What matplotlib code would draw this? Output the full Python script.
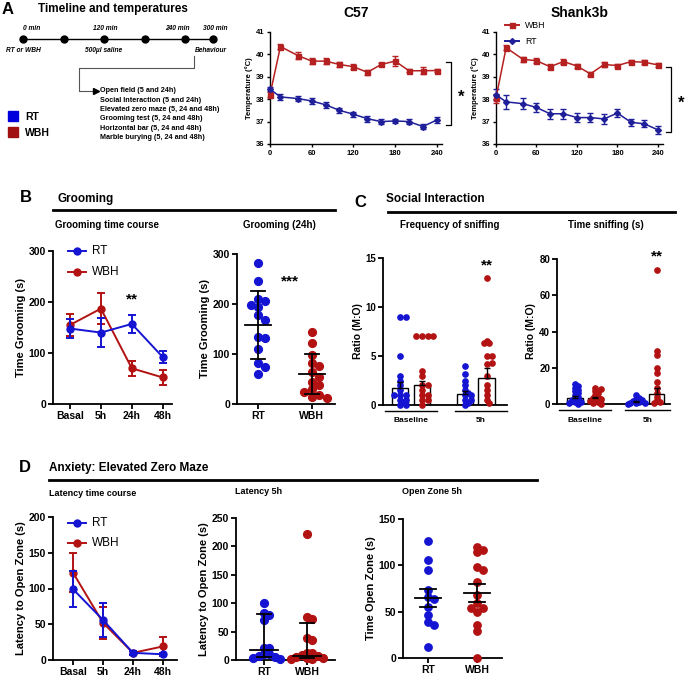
import numpy as np
import matplotlib
matplotlib.use('Agg')
import matplotlib.pyplot as plt
from matplotlib.lines import Line2D

plt.rcParams['font.family'] = ['Liberation Sans', 'DejaVu Sans']
plt.rcParams['font.weight'] = 'bold'
plt.rcParams['axes.labelweight'] = 'bold'
plt.rcParams['axes.titleweight'] = 'bold'

# ---- data ----
temp_times = [0, 15, 40, 60, 80, 100, 120, 140, 160, 180, 200, 220, 240]
c57_wbh = [38.2, 40.35, 39.95, 39.7, 39.7, 39.55, 39.45, 39.2, 39.55, 39.7, 39.27, 39.27, 39.28]
c57_wbh_err = [0.12, 0.12, 0.15, 0.12, 0.12, 0.12, 0.1, 0.12, 0.08, 0.22, 0.07, 0.15, 0.08]
c57_rt = [38.45, 38.1, 38.03, 37.92, 37.75, 37.5, 37.33, 37.13, 37.0, 37.03, 37.0, 36.78, 37.07]
c57_rt_err = [0.1, 0.13, 0.12, 0.13, 0.13, 0.12, 0.12, 0.13, 0.12, 0.1, 0.1, 0.13, 0.15]
shank_wbh = [38.05, 40.3, 39.78, 39.72, 39.45, 39.68, 39.48, 39.13, 39.55, 39.5, 39.68, 39.65, 39.53]
shank_wbh_err = [0.2, 0.12, 0.12, 0.12, 0.1, 0.1, 0.1, 0.1, 0.1, 0.08, 0.08, 0.1, 0.1]
shank_rt = [38.2, 37.88, 37.8, 37.63, 37.35, 37.35, 37.18, 37.18, 37.12, 37.38, 36.97, 36.9, 36.63]
shank_rt_err = [0.25, 0.3, 0.25, 0.22, 0.22, 0.22, 0.22, 0.22, 0.22, 0.18, 0.15, 0.15, 0.18]

time_cats = ['Basal', '5h', '24h', '48h']
groom_rt = [148, 140, 157, 92]
groom_rt_err = [18, 28, 18, 12]
groom_wbh = [155, 187, 70, 52]
groom_wbh_err = [22, 30, 15, 15]

groom24_rt = [283, 247, 210, 207, 198, 195, 178, 168, 135, 132, 110, 82, 75, 60]
groom24_wbh = [145, 122, 98, 83, 77, 65, 55, 45, 38, 30, 25, 18, 15, 12]
groom24_mean = [158, 60]
groom24_sd = [68, 40]

groups = ['RT', 'WBH']
freq_vals = [
    [9, 9, 5, 3, 2.5, 2, 1.5, 1, 1, 1, 0.5, 0.5, 0.3, 0, 0],
    [7, 7, 7, 7, 3.5, 3, 2, 2, 1.5, 1, 1, 0.5, 0.5, 0],
    [4, 3.2, 2.5, 2, 1.5, 1.2, 1, 1, 0.5, 0.5, 0.2, 0],
    [13, 6.5, 6.3, 6.3, 5, 5, 4.2, 4.3, 3, 2, 1.5, 1, 0.5, 0.2],
]
freq_bar = [1.7, 2.0, 1.1, 2.8]
freq_sem = [0.6, 0.5, 0.3, 1.0]
sniff_vals = [
    [11, 10, 9, 8, 7, 6, 5, 4, 3, 2, 2, 1, 1, 0.5, 0],
    [9, 8.5, 7, 6, 5, 4, 3.5, 3, 2, 1.5, 1, 0.5, 0],
    [5, 3.5, 2.5, 2, 1.5, 1, 0.8, 0.5, 0.3, 0],
    [74, 29, 27, 20, 17, 12, 9, 6, 4, 2, 1, 0.5],
]
sniff_bar = [3.5, 3.2, 1.2, 5.5]
sniff_sem = [0.8, 0.8, 0.4, 3.5]
bar_pos = [0, 1, 3, 4]
session_labels = ['Baseline', '5h']

lat_rt = [99, 56, 10, 8]
lat_rt_err = [25, 24, 3, 2]
lat_wbh = [122, 52, 10, 19]
lat_wbh_err = [27, 22, 3, 13]

lat5_rt = [100, 82, 80, 70, 22, 22, 10, 10, 7, 5, 3, 2]
lat5_wbh = [222, 75, 73, 38, 35, 13, 12, 8, 7, 5, 4, 3, 2, 2]
lat5_mid = [17, 7]
lat5_hi = [81, 66]
lat5_lo = [6, 4]

oz_rt = [126, 106, 95, 73, 66, 64, 55, 46, 39, 36, 12]
oz_wbh = [120, 117, 114, 98, 95, 82, 68, 59, 54, 54, 50, 36, 29, 0]
oz_mean = [65, 70]
oz_sem = [10, 10]

timeline_marks = [0, 60, 120, 180, 240, 300]
timeline_top = {0: '0 min', 120: '120 min', 240: '240 min', 300: '300 min'}
timeline_bottom = {0: 'RT or WBH', 120: '500µl saline', 300: 'Behaviour'}
tests = ['Open field (5 and 24h)', 'Social Interaction (5 and 24h)',
         'Elevated zero maze (5, 24 and 48h)', 'Grooming test (5, 24 and 48h)',
         'Horizontal bar (5, 24 and 48h)', 'Marble burying (5, 24 and 48h)']

BLUE = '#1414d2'
RED = '#b31212'
NAVY = '#1f1f99'
DRED = '#b52020'

W, H = 685, 679
fig = plt.figure(figsize=(W / 100, H / 100), dpi=100)


def px_axes(l, t, r, b):
    return fig.add_axes([l / W, 1 - b / H, (r - l) / W, (b - t) / H])


def ftext(x, y, s, **kw):
    kw.setdefault('va', 'center')
    fig.text(x / W, 1 - y / H, s, **kw)


def fline(xs, ys, **kw):
    fig.add_artist(Line2D([x / W for x in xs], [1 - y / H for y in ys], **kw))


def prism(ax, fs=7):
    for s in ['top', 'right']:
        ax.spines[s].set_visible(False)
    for s in ['left', 'bottom']:
        ax.spines[s].set_linewidth(1.3)
    ax.tick_params(width=1.3, length=3.5, labelsize=fs, pad=1.5)


def legend_entry(x, y, color, marker, label, ms, fs, half=9):
    fline([x - half, x + half], [y, y], color=color, lw=1.4)
    fline([x], [y], color=color, marker=marker, ms=ms, lw=0)
    ftext(x + half + 6, y, label, fontsize=fs, fontweight='normal')


def swarm(ax, xc, vals, ms, step=0.8, gap=0.75):
    d = ms * 100 / 72
    x0 = ax.transData.transform((xc, 0))[0]
    ys = ax.transData.transform(np.column_stack([np.full(len(vals), xc), vals]))[:, 1]
    pts = []
    for yp in ys:
        for k in [0, 1, -1, 2, -2, 3, -3, 4, -4, 5, -5]:
            xp = x0 + k * d * step
            if all((xp - a) ** 2 + (yp - b) ** 2 >= (d * gap) ** 2 for a, b in pts):
                break
        pts.append((xp, yp))
    inv = ax.transData.inverted()
    return [inv.transform((a, b))[0] for a, b in pts]


def hline_px(ax, xc, y, half_px, lw=1.3):
    x0 = ax.transData.transform((xc, 0))[0]
    inv = ax.transData.inverted()
    xa = inv.transform((x0 - half_px, 0))[0]
    xb = inv.transform((x0 + half_px, 0))[0]
    ax.plot([xa, xb], [y, y], color='black', lw=lw, zorder=5, clip_on=False)


# ---- panel A ----
ftext(2, 9, 'A', fontsize=12)
ftext(38, 9, 'Timeline and temperatures', fontsize=8.5)
tl_dots = [23, 64, 104, 145, 185, 213]
fline([tl_dots[0], tl_dots[-1]], [39, 39], color='black', lw=1)
for m, xp in zip(timeline_marks, tl_dots):
    fline([xp], [39], color='black', marker='o', ms=5, lw=0)
top_x = {0: 32, 120: 105, 240: 177, 300: 215}
bot_x = {0: 23, 120: 104, 300: 211}
for m, s in timeline_top.items():
    ftext(top_x[m], 29, s, fontsize=4.8, style='italic', ha='center')
for m, s in timeline_bottom.items():
    ftext(bot_x[m], 51, s, fontsize=4.8, style='italic', ha='center')
fline([194, 194, 79, 79, 94], [56, 68, 68, 91, 91], color='#555555', lw=0.8)
fline([96], [91], color='black', marker='>', ms=4, lw=0)
for i, s in enumerate(tests):
    ftext(100, 91 + i * 9.3, s, fontsize=5.2)
fig.add_artist(plt.Rectangle((8 / W, 1 - 121 / H), 10 / W, 10 / H, color='#0000dd'))
fig.add_artist(plt.Rectangle((8 / W, 1 - 137 / H), 10 / W, 10 / H, color='#a01010'))
ftext(25, 117, 'RT', fontsize=7.5)
ftext(25, 133, 'WBH', fontsize=7.5)


def temp_plot(ax, wbh, wbh_err, rt, rt_err, title):
    ax.errorbar(temp_times, wbh, yerr=wbh_err, color=DRED, marker='s', ms=3.6,
                lw=1.1, capsize=2.2, elinewidth=1, capthick=1, clip_on=False, zorder=3)
    ax.errorbar(temp_times, rt, yerr=rt_err, color=NAVY, marker='D', ms=3,
                lw=1.1, capsize=2.2, elinewidth=1, capthick=1, clip_on=False, zorder=3)
    ax.set_xlim(0, 247.5)
    ax.set_ylim(36, 41)
    ax.set_xticks([0, 60, 120, 180, 240])
    ax.set_yticks([36, 37, 38, 39, 40, 41])
    prism(ax, fs=5.5)
    ax.spines['left'].set_linewidth(1)
    ax.spines['bottom'].set_linewidth(1)
    ax.tick_params(width=1, length=2.5)
    ax.set_ylabel('Temperature (°C)', fontsize=5.5, labelpad=2)
    ax.set_title(title, fontsize=10, pad=11)


ax = px_axes(270, 32, 442, 144)
temp_plot(ax, c57_wbh, c57_wbh_err, c57_rt, c57_rt_err, 'C57')
fline([446, 451, 451, 446], [62, 62, 125, 125], color='black', lw=0.9)
ftext(461, 97, '*', fontsize=12, ha='center')

ax = px_axes(496, 32, 663, 144)
temp_plot(ax, shank_wbh, shank_wbh_err, shank_rt, shank_rt_err, 'Shank3b')
fline([666, 671, 671, 666], [67, 67, 132, 132], color='black', lw=0.9)
ftext(681, 103, '*', fontsize=12, ha='center')
legend_entry(512, 25, DRED, 's', 'WBH', 3.6, 6.3, half=7)
legend_entry(512, 41, NAVY, 'D', 'RT', 3, 6.3, half=7)

# ---- panel B ----
ftext(20, 197, 'B', fontsize=12)
ftext(57, 199, 'Grooming', fontsize=8.5)
fline([53, 335], [210, 210], color='black', lw=2)
ftext(55, 225, 'Grooming time course', fontsize=7)
ftext(279, 225, 'Grooming (24h)', fontsize=7, ha='center')

ax = px_axes(53, 251, 172, 404)
xs = np.arange(len(time_cats))
ax.errorbar(xs, groom_wbh, yerr=groom_wbh_err, color=RED, marker='o', ms=5, lw=1.4,
            capsize=3, elinewidth=1.4, capthick=1.4, zorder=3)
ax.errorbar(xs, groom_rt, yerr=groom_rt_err, color=BLUE, marker='o', ms=5, lw=1.4,
            capsize=3, elinewidth=1.4, capthick=1.4, zorder=4)
ax.set_xlim(-0.55, 3.3)
ax.set_ylim(0, 300)
ax.set_xticks(xs, time_cats)
ax.set_yticks([0, 100, 200, 300])
prism(ax, fs=7.5)
ax.set_ylabel('Time Grooming (s)', fontsize=8, labelpad=2)
ax.text(2, 205, '**', fontsize=11, ha='center', va='center')
legend_entry(77, 251, BLUE, 'o', 'RT', 5, 8.5)
legend_entry(77, 272, RED, 'o', 'WBH', 5, 8.5)

ax = px_axes(237, 254, 335, 404)
ax.set_xlim(-0.39, 1.43)
ax.set_ylim(0, 300)
for i, (vals, c) in enumerate([(groom24_rt, BLUE), (groom24_wbh, RED)]):
    px = swarm(ax, i, vals, 5.6, step=0.95, gap=0.9)
    ax.plot(px, vals, 'o', color=c, ms=5.6, lw=0, clip_on=False, zorder=3)
    m, sd = groom24_mean[i], groom24_sd[i]
    ax.plot([i, i], [m - sd, m + sd], color='black', lw=1.3, zorder=5)
    hline_px(ax, i, m, 13)
    hline_px(ax, i, m - sd, 7)
    hline_px(ax, i, m + sd, 7)
ax.set_xticks([0, 1], groups)
ax.set_yticks([0, 100, 200, 300])
prism(ax, fs=7.5)
ax.set_ylabel('Time Grooming (s)', fontsize=8, labelpad=2)
ax.text(0.6, 245, '***', fontsize=11, ha='center', va='center')

# ---- panel C ----
ftext(360, 202, 'C', fontsize=12, ha='center')
ftext(386, 199, 'Social Interaction', fontsize=8.5)
fline([388, 675], [212, 212], color='black', lw=2)
ftext(450, 225, 'Frequency of sniffing', fontsize=7, ha='center')
ftext(606, 225, 'Time sniffing (s)', fontsize=7, ha='center')


def sniff_plot(ax, vals, bars, sems, ymax, step, star_y):
    cols = [BLUE, RED, BLUE, RED]
    ax.set_ylim(0, ymax)
    ax.bar(bar_pos, bars, width=0.75, facecolor='none', edgecolor='black', lw=1, zorder=2)
    for p, v, c in zip(bar_pos, vals, cols):
        px = swarm(ax, p, v, 3.8, step=0.55, gap=0.6)
        ax.plot(px, v, 'o', color=c, ms=3.8, lw=0, clip_on=False, zorder=3)
    ax.errorbar(bar_pos, bars, yerr=[np.zeros(4), sems], fmt='none', ecolor='black',
                elinewidth=1, capsize=2.5, capthick=1, zorder=4)
    ax.set_yticks(np.arange(0, ymax + 1, step))
    ax.set_xticks([])
    prism(ax, fs=7)
    ax.set_ylabel('Ratio (M:O)', fontsize=7.5, labelpad=2)
    ax.text(4, star_y, '**', fontsize=11, ha='center', va='center')


ax = px_axes(383, 258, 507, 405)
ax.set_xlim(-0.8, 4.95)
sniff_plot(ax, freq_vals, freq_bar, freq_sem, 15, 5, 14.2)
fline([385, 437], [411, 411], color='black', lw=1)
fline([455, 507], [411, 411], color='black', lw=1)
ftext(411, 421, session_labels[0], fontsize=6, ha='center')
ftext(481, 421, session_labels[1], fontsize=6, ha='center')

ax = px_axes(557, 259, 670, 404)
ax.set_xlim(-0.88, 4.65)
sniff_plot(ax, sniff_vals, sniff_bar, sniff_sem, 80, 20, 81.5)
fline([559, 611], [410, 410], color='black', lw=1)
fline([625, 670], [410, 410], color='black', lw=1)
ftext(585, 421, session_labels[0], fontsize=6, ha='center')
ftext(648, 421, session_labels[1], fontsize=6, ha='center')

# ---- panel D ----
ftext(25, 468, 'D', fontsize=12, ha='center')
ftext(49, 468, 'Anxiety: Elevated Zero Maze', fontsize=8.5)
fline([49, 537], [480, 480], color='black', lw=2)
ftext(49, 493, 'Latency time course', fontsize=6.5)
ftext(235, 492, 'Latency 5h', fontsize=6.5)
ftext(402, 492, 'Open Zone 5h', fontsize=6.5)

ax = px_axes(53, 517, 177, 660)
ax.errorbar(xs, lat_wbh, yerr=lat_wbh_err, color=RED, marker='o', ms=5, lw=1.4,
            capsize=3, elinewidth=1.4, capthick=1.4, zorder=3)
ax.errorbar(xs, lat_rt, yerr=lat_rt_err, color=BLUE, marker='o', ms=5, lw=1.4,
            capsize=3, elinewidth=1.4, capthick=1.4, zorder=4)
ax.set_xlim(-0.67, 3.47)
ax.set_ylim(0, 200)
ax.set_xticks(xs, time_cats)
ax.set_yticks([0, 50, 100, 150, 200])
prism(ax, fs=7.5)
ax.set_ylabel('Latency to Open Zone (s)', fontsize=8, labelpad=2)
legend_entry(77, 523, BLUE, 'o', 'RT', 5, 8.5)
legend_entry(77, 543, RED, 'o', 'WBH', 5, 8.5)

ax = px_axes(236, 518, 335, 660)
ax.set_xlim(-0.65, 1.65)
ax.set_ylim(0, 250)
for i, (vals, c) in enumerate([(lat5_rt, BLUE), (lat5_wbh, RED)]):
    px = swarm(ax, i, vals, 5.6, step=0.7, gap=0.7)
    ax.plot(px, vals, 'o', color=c, ms=5.6, lw=0, clip_on=False, zorder=3)
    ax.plot([i, i], [lat5_lo[i], lat5_hi[i]], color='black', lw=1.3, zorder=5)
    hline_px(ax, i, lat5_mid[i], 14)
    hline_px(ax, i, lat5_lo[i], 7)
    hline_px(ax, i, lat5_hi[i], 7)
ax.set_xticks([0, 1], groups)
ax.set_yticks([0, 50, 100, 150, 200, 250])
prism(ax, fs=7.5)
ax.set_ylabel('Latency to Open Zone (s)', fontsize=8, labelpad=2)

ax = px_axes(403, 519, 502, 658)
ax.set_xlim(-0.51, 1.51)
ax.set_ylim(0, 150)
for i, (vals, c) in enumerate([(oz_rt, BLUE), (oz_wbh, RED)]):
    px = swarm(ax, i, vals, 5.3)
    ax.plot(px, vals, 'o', color=c, ms=5.3, lw=0, clip_on=False, zorder=3)
    m, se = oz_mean[i], oz_sem[i]
    ax.plot([i, i], [m - se, m + se], color='black', lw=1.3, zorder=5)
    hline_px(ax, i, m, 13)
    hline_px(ax, i, m - se, 8)
    hline_px(ax, i, m + se, 8)
ax.set_xticks([0, 1], groups)
ax.set_yticks([0, 50, 100, 150])
prism(ax, fs=7.5)
ax.set_ylabel('Time Open Zone (s)', fontsize=8, labelpad=2)

fig.savefig('out.png', dpi=100)
